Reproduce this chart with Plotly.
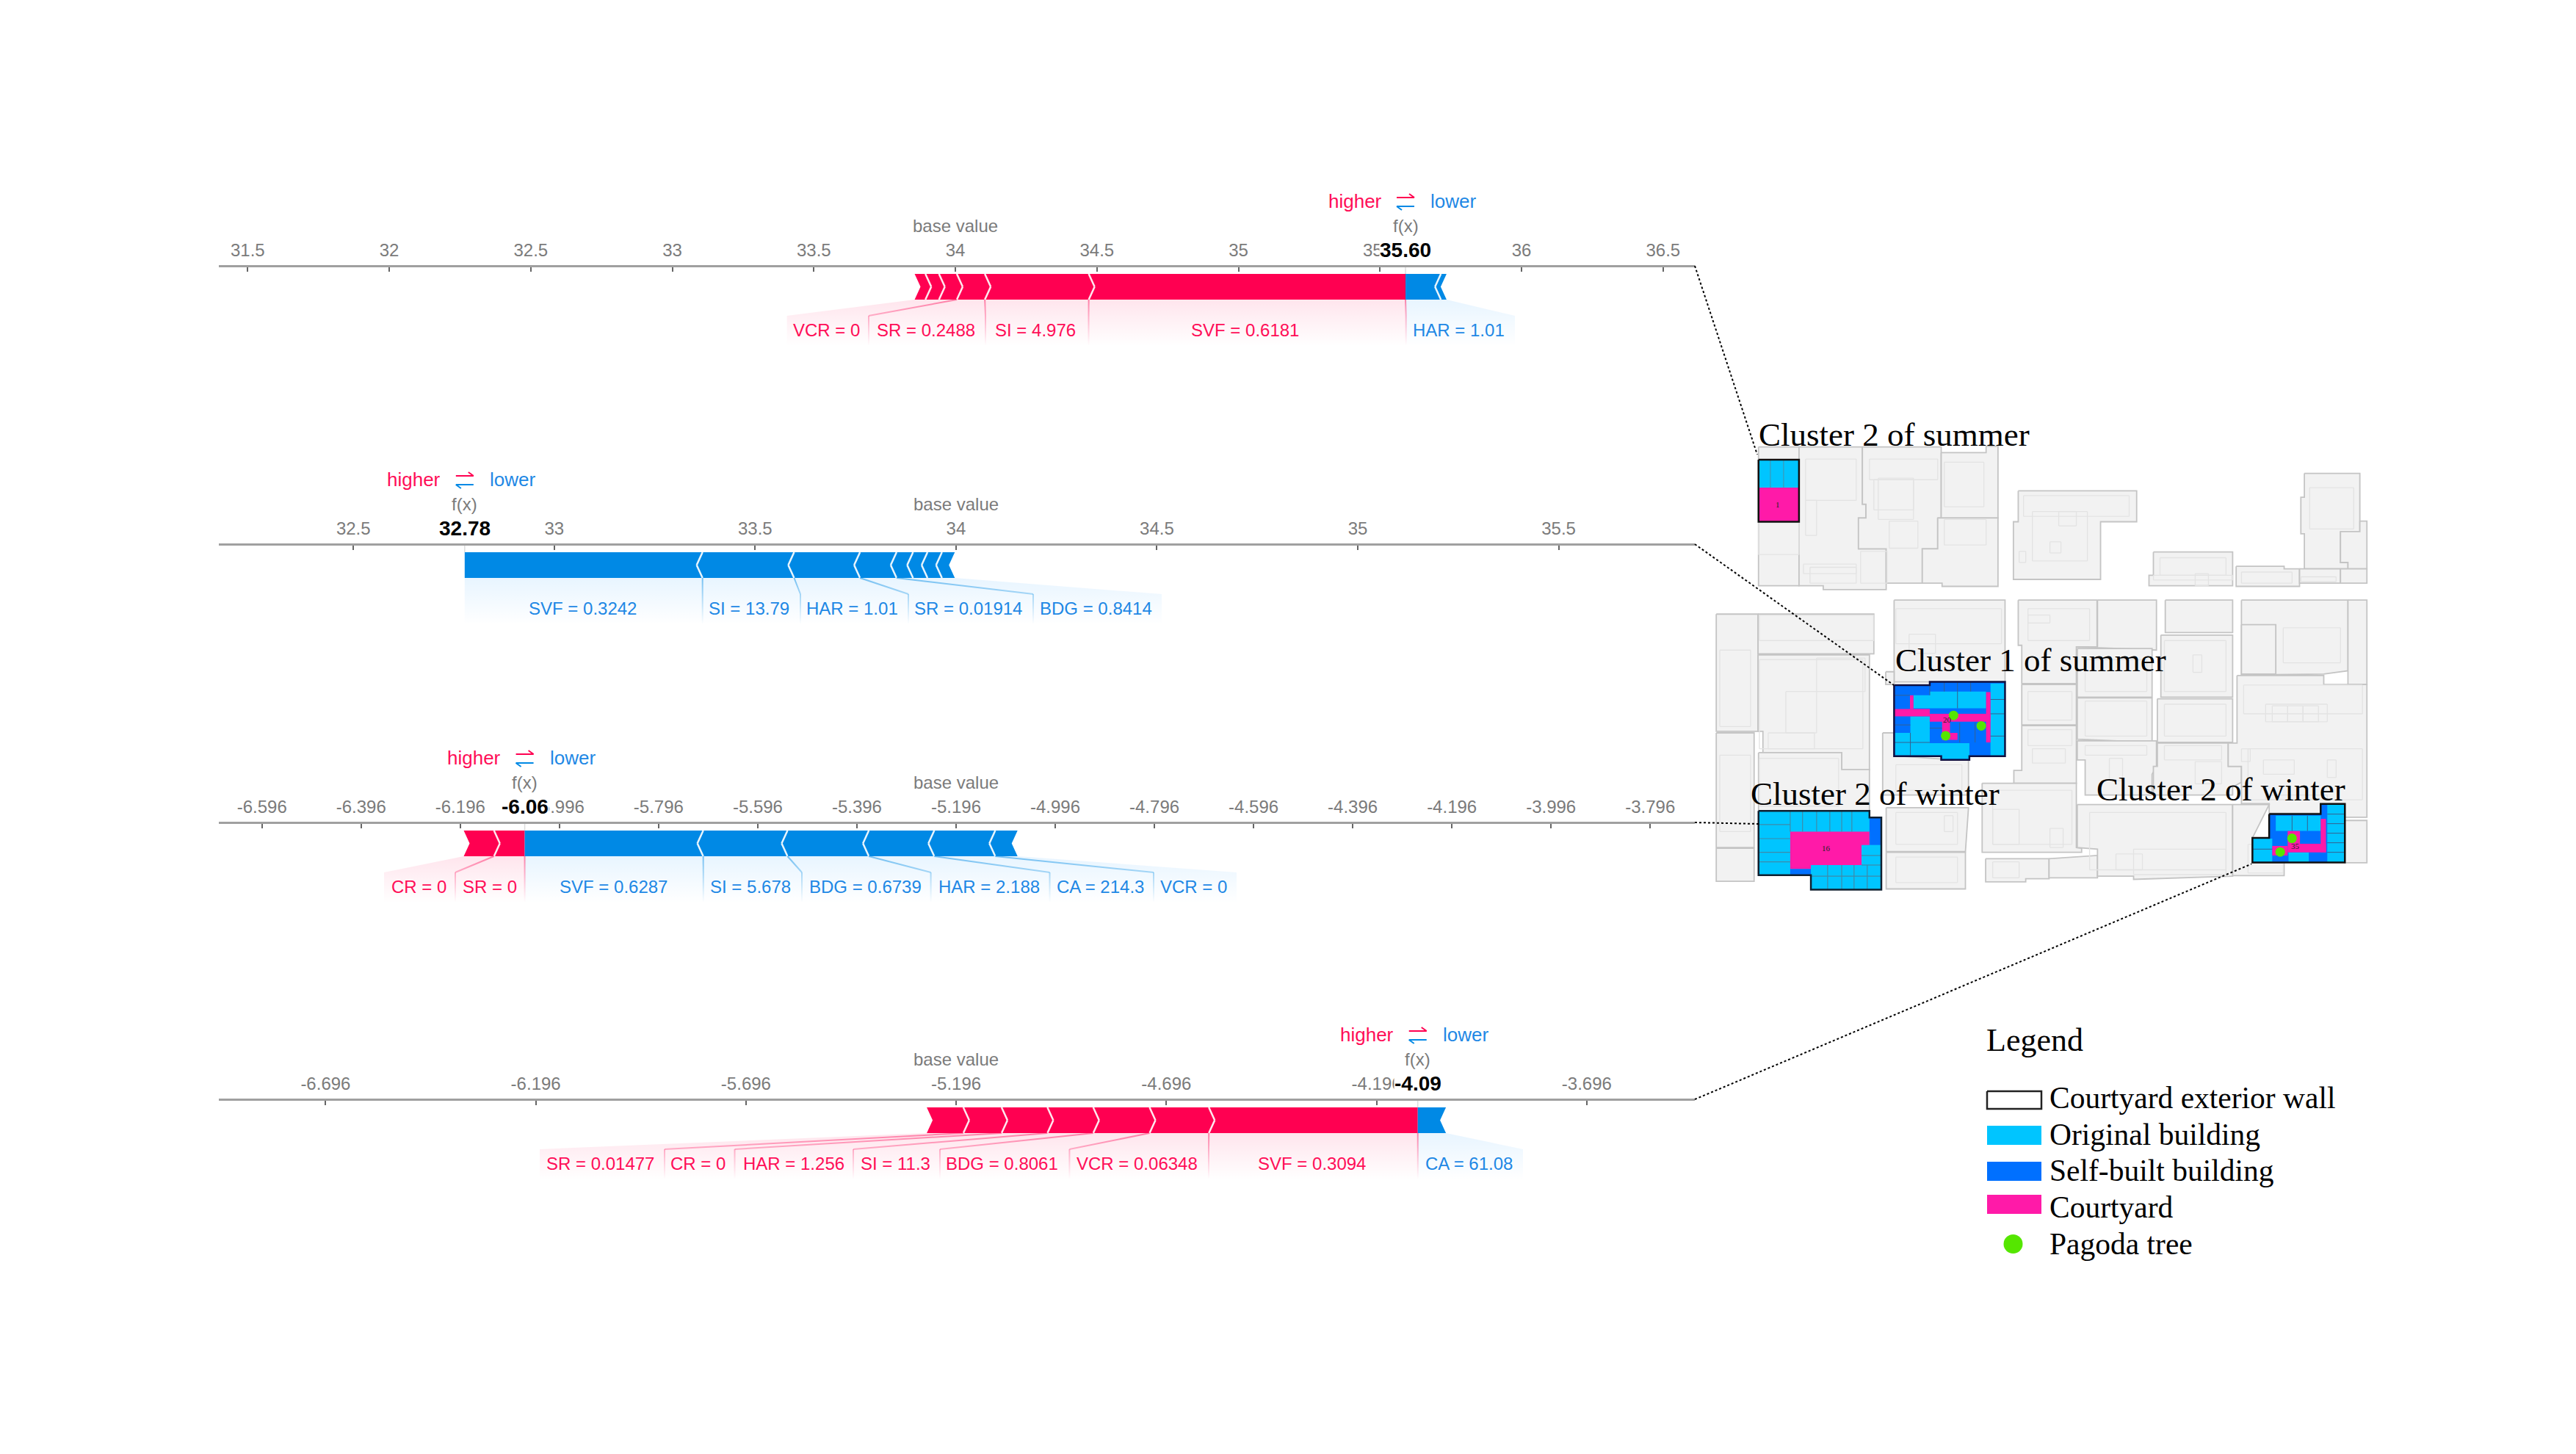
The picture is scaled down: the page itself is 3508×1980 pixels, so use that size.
import plotly.graph_objects as go

# ---------- data ----------
P1_TICK_VALUES = [31.5, 32, 32.5, 33, 33.5, 34, 34.5, 35, 35.5, 36, 36.5]
P1_TICK_LABELS = ["31.5", "32", "32.5", "33", "33.5", "34", "34.5", "35", "35.5", "36", "36.5"]
P1_BASE = 34
P1_FX = 35.59
P1_FX_LABEL = "35.60"
P1_RED_EDGES = [33.856, 33.894, 33.942, 34.005, 34.104, 34.471, 35.59]
P1_BLUE_EDGES = [35.59, 35.715, 35.735]
P1_RED_LABELS = ["VCR = 0", "SR = 0.2488", "SI = 4.976", "SVF = 0.6181"]
P1_BLUE_LABELS = ["HAR = 1.01"]

P2_TICK_VALUES = [32.5, 33, 33.5, 34, 34.5, 35, 35.5]
P2_TICK_LABELS = ["32.5", "33", "33.5", "34", "34.5", "35", "35.5"]
P2_BASE = 34
P2_FX = 32.777
P2_FX_LABEL = "32.78"
P2_RED_EDGES = []
P2_BLUE_EDGES = [32.777, 33.369, 33.597, 33.761, 33.852, 33.893, 33.929, 33.965, 33.997]
P2_RED_LABELS = []
P2_BLUE_LABELS = ["SVF = 0.3242", "SI = 13.79", "HAR = 1.01", "SR = 0.01914", "BDG = 0.8414"]

P3_TICK_VALUES = [-6.596, -6.396, -6.196, -5.996, -5.796, -5.596, -5.396, -5.196, -4.996,
                  -4.796, -4.596, -4.396, -4.196, -3.996, -3.796]
P3_TICK_LABELS = ["-6.596", "-6.396", "-6.196", "-5.996", "-5.796", "-5.596", "-5.396", "-5.196",
                  "-4.996", "-4.796", "-4.596", "-4.396", "-4.196", "-3.996", "-3.796"]
P3_BASE = -5.196
P3_FX = -6.066
P3_FX_LABEL = "-6.06"
P3_RED_EDGES = [-6.189, -6.128, -6.066]
P3_BLUE_EDGES = [-6.066, -5.706, -5.536, -5.372, -5.240, -5.117, -5.072]
P3_RED_LABELS = ["CR = 0", "SR = 0"]
P3_BLUE_LABELS = ["SVF = 0.6287", "SI = 5.678", "BDG = 0.6739", "HAR = 2.188", "CA = 214.3", "VCR = 0"]

P4_TICK_VALUES = [-6.696, -6.196, -5.696, -5.196, -4.696, -4.196, -3.696]
P4_TICK_LABELS = ["-6.696", "-6.196", "-5.696", "-5.196", "-4.696", "-4.196", "-3.696"]
P4_BASE = -5.196
P4_FX = -4.098
P4_FX_LABEL = "-4.09"
P4_RED_EDGES = [-5.266, -5.179, -5.088, -4.979, -4.870, -4.736, -4.595, -4.098]
P4_BLUE_EDGES = [-4.098, -4.031]
P4_RED_LABELS = ["SR = 0.01477", "CR = 0", "HAR = 1.256", "SI = 11.3", "BDG = 0.8061", "VCR = 0.06348", "SVF = 0.3094"]
P4_BLUE_LABELS = ["CA = 61.08"]

LEGEND_TITLE = "Legend"
LEGEND_ITEMS = ["Courtyard exterior wall", "Original building", "Self-built building", "Courtyard", "Pagoda tree"]

# floor-plan footprints (plan units)
PLAN_BLOCKS = [
    [(108,112),(200,112),(200,548),(108,548)],
    [(200,112),(344,112),(344,292),(352,292),(352,335),(335,335),(335,432),(398,432),(398,560),(255,560),(255,548),(200,548)],
    [(344,112),(523,112),(523,335),(515,335),(515,432),(480,432),(480,540),(398,540),(398,432),(335,432),(335,335),(352,335),(352,292),(344,292)],
    [(523,130),(625,130),(625,110),(652,110),(652,335),(523,335)],
    [(515,335),(652,335),(652,550),(525,550),(525,540),(480,540),(480,432),(515,432)],
    [(698,250),(967,250),(967,347),(885,347),(885,528),(687,528),(687,347),(698,347)],
    [(1005,442),(1185,442),(1185,548),(995,548),(995,515),(1005,515)],
    [(1193,487),(1302,487),(1302,495),(1337,495),(1337,550),(1193,550)],
    [(1348,195),(1474,195),(1474,378),(1430,378),(1430,475),(1447,475),(1447,495),(1348,495),(1348,385),(1340,385),(1340,270),(1348,270)],
    [(1430,378),(1474,378),(1474,345),(1490,345),(1490,495),(1447,495),(1447,475),(1430,475)],
    [(1337,495),(1430,495),(1430,540),(1337,540)],
    [(1430,495),(1490,495),(1490,540),(1430,540)],
    [(12,637),(107,637),(107,1005),(12,1005)],
    [(107,637),(370,637),(370,762),(107,762)],
    [(107,765),(360,765),(360,1125),(297,1125),(297,1072),(118,1072),(118,1005),(107,1005)],
    [(12,1010),(98,1010),(98,1370),(12,1370)],
    [(12,1372),(98,1372),(98,1476),(12,1476)],
    [(108,1072),(297,1072),(297,1125),(360,1125),(360,1255),(108,1255)],
    [(416,593),(668,593),(668,850),(416,850)],
    [(397,818),(416,818),(416,858),(397,858)],
    [(390,1010),(416,1010),(416,1082),(525,1092),(585,1092),(585,1205),(390,1205)],
    [(698,593),(877,593),(877,740),(830,740),(830,855),(706,855),(706,735),(698,735)],
    [(878,593),(1012,593),(1012,750),(830,740),(878,740)],
    [(1032,593),(1185,593),(1185,695),(1032,695)],
    [(1022,703),(1185,703),(1185,898),(1022,898)],
    [(832,745),(1002,745),(1002,898),(832,898)],
    [(832,900),(1002,900),(1002,1040),(832,1030)],
    [(1014,903),(1185,903),(1185,1040),(1014,1040)],
    [(706,858),(830,858),(830,985),(706,985)],
    [(706,987),(830,987),(830,1168),(688,1168),(688,1128),(706,1128)],
    [(832,1035),(1012,1035),(1012,1115),(1002,1140),(1002,1205),(850,1205),(850,1095),(832,1095)],
    [(1014,1042),(1175,1042),(1175,1115),(1205,1115),(1205,1165),(1185,1180),(1185,1205),(1005,1205),(1005,1115),(1014,1115)],
    [(1205,593),(1447,593),(1447,815),(1392,825),(1205,828)],
    [(1447,593),(1490,593),(1490,858),(1447,858)],
    [(1195,830),(1392,830),(1392,858),(1490,858),(1490,1275),(1440,1275),(1440,1232),(1385,1232),(1385,1262),(1268,1262),(1268,1232),(1205,1232),(1205,1115),(1175,1115),(1175,1042),(1195,1042)],
    [(1205,670),(1283,670),(1283,825),(1205,825)],
    [(616,1168),(830,1168),(830,1370),(842,1372),(842,1385),(616,1385)],
    [(398,1245),(585,1245),(578,1383),(398,1383)],
    [(398,1385),(578,1385),(578,1500),(398,1500)],
    [(624,1405),(768,1405),(768,1468),(715,1468),(715,1478),(624,1478)],
    [(768,1405),(878,1395),(878,1465),(768,1465)],
    [(832,1235),(1185,1235),(1185,1460),(960,1470),(960,1460),(878,1460),(878,1375),(832,1370)],
    [(1185,1235),(1268,1235),(1230,1340),(1230,1418),(1302,1418),(1302,1458),(1185,1458)],
    [(1440,1285),(1490,1285),(1490,1418),(1440,1418)],
]
PLAN_DETAIL_RECTS = [
    (108,350,200,450),(210,480,330,510),(380,210,460,340),(340,440,400,540),(530,160,620,300),(530,340,625,420),
    (730,315,855,470),(770,410,795,445),(700,440,715,475),(1005,515,1185,530),(1360,240,1460,370),
    (110,780,345,1060),(170,880,240,1010),(110,640,370,720),(420,620,660,730),(450,700,510,760),
    (720,620,860,720),(850,780,990,880),(850,910,990,1020),(1030,720,1170,880),(1095,765,1115,820),
    (1030,920,1170,1020),(720,880,820,970),(730,1060,805,1105),(1100,1100,1160,1170),(905,1090,935,1160),
    (1210,860,1480,950),(1260,920,1400,975),(1220,1060,1480,1220),(1255,1095,1325,1140),(1300,680,1430,790),
    (110,1090,290,1240),(20,750,90,990),(20,1080,90,1320),(640,1190,820,1360),(770,1310,800,1370),
    (420,1260,560,1360),(530,1270,550,1320),(420,1400,560,1480),(640,1415,700,1465),(860,1260,1170,1440),
    (960,1375,1170,1455),(920,1390,980,1440),(420,1110,570,1190),(1220,1360,1300,1450),
    (215,150,330,280),(215,280,240,390),(360,150,515,215),(370,215,460,310),(405,345,470,430),(225,490,330,540),
    (710,265,950,330),(790,315,830,360),(1020,460,1170,515),(1205,505,1320,540),(1100,510,1130,548),
    (240,775,350,880),(130,1010,235,1060),(1260,1205,1400,1220),(1275,925,1310,975),(1310,925,1345,975),
    (1345,925,1380,975),(1205,1060,1225,1100),(1400,1095,1420,1150),(720,1000,820,1050),(720,640,770,665),
    (850,1050,990,1080),(1030,1050,1160,1095),(640,1250,700,1360),(1340,520,1420,535),
]

C2_SUMMER_OUTLINE = [(108,152),(200,152),(200,347),(108,347)]
C2_SUMMER_ORIGINAL = [[(108,152),(200,152),(200,240),(108,240)]]
C2_SUMMER_COURT = [[(108,240),(200,240),(200,347),(108,347)]]
C2_SUMMER_GRID = [(135,152,135,240),(165,152,165,240)]

C1_OUTLINE = [(416,860),(497,860),(497,850),(668,850),(668,1083),(587,1083),(587,1095),(523,1095),(523,1083),(416,1083)]
C1_ORIGINAL = [
    [(460,892),(497,892),(497,880),(625,880),(625,933),(460,933)],
    [(635,855),(668,855),(668,1083),(635,1083)],
    [(453,958),(497,958),(497,1042),(587,1042),(587,1092),(525,1092),(525,1081),(418,1081),(418,1010),(453,1010)],
]
C1_COURT = [
    [(452,892),(460,892),(460,935),(452,935)],
    [(416,935),(497,935),(497,958),(416,958)],
    [(497,950),(635,950),(635,975),(497,975)],
    [(625,882),(635,882),(635,1040),(625,1040)],
    [(525,970),(543,970),(543,1032),(525,1032)],
    [(543,1010),(560,1010),(560,1032),(543,1032)],
]
C1_GRID = [(497,850,497,892),(530,850,530,880),(560,850,560,880),(590,850,590,880),(416,892,452,892),
           (416,985,453,985),(416,1040,497,1040),(453,1010,453,1081),(560,880,560,933),(635,905,668,905),
           (635,950,668,950),(635,1020,668,1020),(565,978,565,1040),(600,978,600,1040),(497,995,525,995)]
C1_TREES_X = [551, 614, 533]
C1_TREES_Y = [955, 988, 1019]

C2L_OUTLINE = [(108,1255),(360,1255),(360,1276),(387,1276),(387,1502),(227,1502),(227,1457),(108,1457)]
C2L_SELF = [[(360,1276),(387,1276),(387,1362),(360,1362)], [(180,1437),(227,1437),(227,1457),(180,1457)]]
C2L_COURT = [[(180,1320),(360,1320),(360,1362),(342,1362),(342,1425),(227,1425),(227,1437),(180,1437)]]
C2L_GRID = [(180,1255,180,1320),(208,1255,208,1320),(240,1255,240,1320),(270,1255,270,1320),(297,1255,297,1320),
            (320,1255,320,1320),(108,1298,180,1298),(108,1342,180,1342),(108,1385,180,1385),(108,1415,180,1415),
            (227,1460,387,1460),(265,1425,265,1502),(297,1425,297,1502),(325,1425,325,1502),(355,1425,355,1502),
            (342,1395,387,1395),(342,1425,387,1425)]

C2R_OUTLINE = [(1268,1265),(1385,1265),(1385,1233),(1440,1233),(1440,1417),(1230,1417),(1230,1340),(1268,1340)]
C2R_ORIGINAL = [
    [(1400,1233),(1440,1233),(1440,1417),(1400,1417)],
    [(1283,1270),(1385,1270),(1385,1318),(1283,1318)],
    [(1230,1342),(1275,1342),(1275,1415),(1230,1415)],
    [(1312,1385),(1358,1385),(1358,1415),(1312,1415)],
]
C2R_COURT = [
    [(1385,1280),(1397,1280),(1397,1385),(1385,1385)],
    [(1310,1358),(1397,1358),(1397,1385),(1310,1385)],
    [(1310,1318),(1338,1318),(1338,1358),(1310,1358)],
    [(1275,1365),(1310,1365),(1310,1395),(1275,1395)],
]
C2R_GRID = [(1320,1270,1320,1318),(1355,1270,1355,1318),(1400,1265,1440,1265),(1400,1295,1440,1295),
            (1400,1325,1440,1325),(1400,1355,1440,1355),(1400,1385,1440,1385),(1230,1375,1275,1375)]
C2R_TREES_X = [1320, 1293]
C2R_TREES_Y = [1341, 1384]

PLAN_TITLES = ["Cluster 2 of summer", "Cluster 1 of summer", "Cluster 2 of winter", "Cluster 2 of winter"]
PLAN_NUMBERS = ["1", "16", "20", "35"]

# ---------- layout constants (page pixels) ----------
W, H = 3508, 1980
AX_L, AX_R = 298, 2308
RED, BLUE = "rgb(255,0,81)", "rgb(0,137,229)"
RED_TXT, BLUE_TXT = "rgb(255,13,87)", "rgb(30,136,229)"
TICK_GRAY = "#7b7b7b"
C_ORIG, C_SELF, C_COURT, C_TREE = "#00c5ff", "#0070ff", "#ff1aa8", "#55e600"
SANS, SERIF = "Liberation Sans", "Liberation Serif"
TIP = 8

PANELS = [
    dict(axis_y=362, rng=(31.398, 36.612), ticks=P1_TICK_VALUES, labels=P1_TICK_LABELS, base=P1_BASE, fx=P1_FX, fxl=P1_FX_LABEL,
         red=P1_RED_EDGES, blue=P1_BLUE_EDGES, rl=P1_RED_LABELS, bl=P1_BLUE_LABELS,
         rl_px=[1125, 1260.5, 1410, 1695], bl_px=[1986],
         rd=[(3,1183),(4,1342),(5,1482.5),(6,1914.7)], bd=[], left=1071.6, right=2063),
    dict(axis_y=741, rng=(32.165, 35.839), ticks=P2_TICK_VALUES, labels=P2_TICK_LABELS, base=P2_BASE, fx=P2_FX, fxl=P2_FX_LABEL,
         red=P2_RED_EDGES, blue=P2_BLUE_EDGES, rl=P2_RED_LABELS, bl=P2_BLUE_LABELS,
         rl_px=[], bl_px=[793, 1020, 1160.5, 1318, 1492],
         rd=[], bd=[(1,956.7),(2,1090),(3,1237),(4,1407)], left=None, right=1582),
    dict(axis_y=1120, rng=(-6.683, -3.706), ticks=P3_TICK_VALUES, labels=P3_TICK_LABELS, base=P3_BASE, fx=P3_FX, fxl=P3_FX_LABEL,
         red=P3_RED_EDGES, blue=P3_BLUE_EDGES, rl=P3_RED_LABELS, bl=P3_BLUE_LABELS,
         rl_px=[570, 667], bl_px=[835, 1022.4, 1178, 1347, 1498.6, 1625],
         rd=[(1,620),(2,714.6)], bd=[(1,957.8),(2,1092),(3,1267.6),(4,1429.5),(5,1571)], left=523, right=1684),
    dict(axis_y=1497, rng=(-6.950, -3.439), ticks=P4_TICK_VALUES, labels=P4_TICK_LABELS, base=P4_BASE, fx=P4_FX, fxl=P4_FX_LABEL,
         red=P4_RED_EDGES, blue=P4_BLUE_EDGES, rl=P4_RED_LABELS, bl=P4_BLUE_LABELS,
         rl_px=[817, 950, 1081, 1219.5, 1364, 1548.7, 1786], bl_px=[2000],
         rd=[(1,905),(2,1000.5),(3,1162),(4,1280),(5,1456.4),(6,1646),(7,1930.8)], bd=[], left=735, right=2074),
]
CONNECTORS = [(2308,362,2393,619),(2308,741,2579,933),(2308,1120,2395,1122),(2308,1497,3066,1176.5)]

fig = go.Figure()
ann = []
PX = dict(xaxis="x6", yaxis="y")
PLAN = dict(xaxis="x5", yaxis="y2")


def poly(points, fill, line=None, width=0, **ax):
    xs = [p[0] for p in points] + [points[0][0]]
    ys = [p[1] for p in points] + [points[0][1]]
    fig.add_trace(go.Scatter(x=xs, y=ys, mode="lines", fill="toself", fillcolor=fill,
                             line=dict(color=line or "rgba(0,0,0,0)", width=width),
                             hoverinfo="skip", showlegend=False, **ax))


def segs(segments, color, width, **ax):
    xs, ys = [], []
    for x0, y0, x1, y1 in segments:
        xs += [x0, x1, None]
        ys += [y0, y1, None]
    fig.add_trace(go.Scatter(x=xs, y=ys, mode="lines", line=dict(color=color, width=width),
                             hoverinfo="skip", showlegend=False, **ax))


def text(x, y, s, size, color, family=SANS, anchor="center", bold=False, bg=None, xref="x6", yref="y"):
    ann.append(dict(x=x, y=y, xref=xref, yref=yref, text=f"<b>{s}</b>" if bold else s, showarrow=False,
                    xanchor=anchor, yanchor="middle", font=dict(size=size, color=color, family=family),
                    bgcolor=bg, borderpad=0))


for i, p in enumerate(PANELS):
    name = "" if i == 0 else str(i + 1)
    AX = dict(xaxis="x" + name, yaxis="y")
    r0, r1 = p["rng"]
    to_px = lambda v, r0=r0, r1=r1: AX_L + (v - r0) / (r1 - r0) * (AX_R - AX_L)
    dv = TIP / (AX_R - AX_L) * (r1 - r0)
    y0 = p["axis_y"]
    top, bot, mid = y0 + 11, y0 + 46, y0 + 28.5
    slant, fade_bot, lab_y = y0 + 68, y0 + 108, y0 + 87
    fx_px = to_px(p["fx"])

    # soft bands under the bar
    if p["red"] and p["left"]:
        poly([(p["left"], slant), (to_px(p["red"][0]), bot), (fx_px, bot), (fx_px, fade_bot), (p["left"], fade_bot)],
             "rgba(255,0,81,0.10)", **PX)
    if p["blue"]:
        poly([(fx_px, bot), (to_px(p["blue"][-1]), bot), (p["right"], slant), (p["right"], fade_bot), (fx_px, fade_bot)],
             "rgba(0,139,251,0.09)", **PX)
    # dividers
    divs = [(to_px(p["red"][k]), bot, px_row, slant) for k, px_row in p["rd"]]
    if divs:
        segs(divs + [(d[2], slant, d[2], fade_bot) for d in divs], "rgba(255,0,81,0.45)", 2, **PX)
    divs = [(to_px(p["blue"][k]), bot, px_row, slant) for k, px_row in p["bd"]]
    if divs:
        segs(divs + [(d[2], slant, d[2], fade_bot) for d in divs], "rgba(0,139,229,0.5)", 2, **PX)
    # white fade over bands and dividers
    fl = p["left"] if p["left"] else fx_px
    fig.add_trace(go.Scatter(x=[fl - 2, p["right"] + 2, p["right"] + 2, fl - 2, fl - 2], y=[bot, bot, fade_bot + 1, fade_bot + 1, bot],
                             mode="lines", fill="toself", line=dict(width=0, color="rgba(0,0,0,0)"),
                             fillgradient=dict(type="vertical", start=bot, stop=fade_bot + 1,
                                               colorscale=[[0, "rgba(255,255,255,0)"], [1, "rgba(255,255,255,1)"]]),
                             hoverinfo="skip", showlegend=False, **PX))

    # red segments pointing right, blue segments pointing left
    seps = []
    e = p["red"]
    for k in range(len(e) - 1):
        last = k == len(e) - 2
        a, b = e[k], e[k + 1]
        poly([(a, top), (b, top)] + ([] if last else [(b + dv, mid)]) + [(b, bot), (a, bot), (a + dv, mid)], RED, **AX)
        if not last:
            seps.append((b, top, b + dv, mid))
            seps.append((b + dv, mid, b, bot))
    e = p["blue"]
    for k in range(len(e) - 1):
        first = k == 0
        a, b = e[k], e[k + 1]
        poly([(a, top), (b, top), (b - dv, mid), (b, bot), (a, bot)] + ([] if first else [(a - dv, mid)]), BLUE, **AX)
        if not first:
            seps.append((a, top, a - dv, mid))
            seps.append((a - dv, mid, a, bot))
    segs(seps, "rgba(255,255,255,0.9)", 2.5, **AX)
    # faint marker between axis and bar at f(x)
    segs([(p["fx"], y0, p["fx"], top)], "#dddddd", 1.5, **AX)

    # axis
    layout_axis = dict(domain=[AX_L / W, AX_R / W], range=list(p["rng"]), anchor="free", position=1 - y0 / H,
                       side="top", ticks="inside", ticklen=6, tickwidth=1.5, tickcolor="#666666",
                       tickvals=p["ticks"], ticktext=p["labels"], tickangle=0, ticklabelstandoff=3,
                       tickfont=dict(size=24, color=TICK_GRAY, family=SANS),
                       showline=True, linecolor="#a0a0a0", linewidth=2.5, showgrid=False, zeroline=False, fixedrange=True)
    fig.update_layout(**{"xaxis" + name: layout_axis})

    # texts
    ref = "x" + name
    text(p["base"], y0 - 55, "base value", 24, TICK_GRAY, xref=ref)
    text(p["fx"], y0 - 55, "f(x)", 24, TICK_GRAY, xref=ref)
    text(p["fx"], y0 - 22, p["fxl"], 28, "#000000", bold=True, bg="#ffffff", xref=ref)
    text(fx_px - 69, y0 - 88, "higher", 26, RED_TXT)
    text(fx_px + 65, y0 - 88, "lower", 26, BLUE_TXT)
    segs([(fx_px - 12, y0 - 93, fx_px + 12, y0 - 93), (fx_px + 12, y0 - 93, fx_px + 5, y0 - 98)], RED, 2, **PX)
    segs([(fx_px + 12, y0 - 81, fx_px - 12, y0 - 81), (fx_px - 12, y0 - 81, fx_px - 5, y0 - 76)], BLUE, 2, **PX)
    for s, x in zip(p["rl"], p["rl_px"]):
        text(x, lab_y, s, 24, RED_TXT)
    for s, x in zip(p["bl"], p["bl_px"]):
        text(x, lab_y, s, 24, BLUE_TXT)


def rects(rs):
    out = []
    for x0, y0, x1, y1 in rs:
        out += [(x0, y0, x1, y0), (x1, y0, x1, y1), (x1, y1, x0, y1), (x0, y1, x0, y0)]
    return out


# floor plan
for b in PLAN_BLOCKS:
    poly(b, "#f2f2f2", "#c4c4c4", 1.8, **PLAN)
segs(rects(PLAN_DETAIL_RECTS), "#e3e3e3", 1.3, **PLAN)

# highlighted courtyards
poly(C2_SUMMER_OUTLINE, C_COURT, **PLAN)
for q in C2_SUMMER_ORIGINAL:
    poly(q, C_ORIG, **PLAN)
for q in C2_SUMMER_COURT:
    poly(q, C_COURT, **PLAN)
segs(C2_SUMMER_GRID, "#4a90a8", 1, **PLAN)
poly(C2_SUMMER_OUTLINE, "rgba(0,0,0,0)", "#101010", 2.5, **PLAN)

poly(C1_OUTLINE, C_SELF, **PLAN)
for q in C1_ORIGINAL:
    poly(q, C_ORIG, **PLAN)
for q in C1_COURT:
    poly(q, C_COURT, **PLAN)
segs(C1_GRID, "#35618f", 1, **PLAN)
poly(C1_OUTLINE, "rgba(0,0,0,0)", "#101040", 2.5, **PLAN)

poly(C2L_OUTLINE, C_ORIG, **PLAN)
for q in C2L_SELF:
    poly(q, C_SELF, **PLAN)
for q in C2L_COURT:
    poly(q, C_COURT, **PLAN)
segs(C2L_GRID, "#3f8aa8", 1.2, **PLAN)
poly(C2L_OUTLINE, "rgba(0,0,0,0)", "#102030", 2.5, **PLAN)

poly(C2R_OUTLINE, C_SELF, **PLAN)
for q in C2R_ORIGINAL:
    poly(q, C_ORIG, **PLAN)
for q in C2R_COURT:
    poly(q, C_COURT, **PLAN)
segs(C2R_GRID, "#35618f", 1, **PLAN)
poly(C2R_OUTLINE, "rgba(0,0,0,0)", "#101010", 2.5, **PLAN)

fig.add_trace(go.Scatter(x=C1_TREES_X + C2R_TREES_X, y=C1_TREES_Y + C2R_TREES_Y, mode="markers",
                         marker=dict(size=13, color=C_TREE), hoverinfo="skip", showlegend=False, **PLAN))

# connectors
for x0, y0, x1, y1 in CONNECTORS:
    fig.add_trace(go.Scatter(x=[x0, x1], y=[y0, y1], mode="lines", line=dict(color="#000000", width=2, dash="3px,3px"),
                             hoverinfo="skip", showlegend=False, **PX))

# plan labels
for s, x, y in zip(PLAN_TITLES, [2394, 2580, 2383, 2854], [592, 899, 1081, 1075]):
    text(x, y, s, 45, "#000000", family=SERIF, anchor="left")
for s, x, y in zip(PLAN_NUMBERS, [152, 262, 537, 1328], [293, 1373, 968, 1365]):
    text(x, y, s, 11, "#222222", family=SERIF, xref="x5", yref="y2")

# legend
text(2704, 1416, LEGEND_TITLE, 44, "#000000", family=SERIF, anchor="left")
for s, y in zip(LEGEND_ITEMS, [1495, 1545, 1594, 1644, 1694]):
    text(2790, y, s, 41.5, "#000000", family=SERIF, anchor="left")
poly([(2706, 1486), (2780, 1486), (2780, 1510), (2706, 1510)], "#ffffff", "#222222", 2.5, **PX)
poly([(2706, 1533), (2780, 1533), (2780, 1559), (2706, 1559)], C_ORIG, **PX)
poly([(2706, 1582), (2780, 1582), (2780, 1608), (2706, 1608)], C_SELF, **PX)
poly([(2706, 1627), (2780, 1627), (2780, 1653), (2706, 1653)], C_COURT, **PX)
fig.add_trace(go.Scatter(x=[2741.5], y=[1694], mode="markers", marker=dict(size=26, color=C_TREE),
                         hoverinfo="skip", showlegend=False, **PX))

hidden = dict(visible=False, fixedrange=True)
fig.update_layout(
    width=W, height=H, autosize=False, margin=dict(l=0, r=0, t=0, b=0), showlegend=False,
    paper_bgcolor="#ffffff", plot_bgcolor="rgba(0,0,0,0)", annotations=ann,
    yaxis=dict(range=[H, 0], domain=[0, 1], **hidden),
    yaxis2=dict(range=[1568, 0], domain=[1 - 1240 / H, 1 - 560 / H], anchor="x5", **hidden),
    xaxis5=dict(range=[0, 1568], domain=[2330 / W, 3270 / W], anchor="y2", **hidden),
    xaxis6=dict(range=[0, W], domain=[0, 1], anchor="y", **hidden),
)
fig.write_html("out.html", config=dict(displayModeBar=False),
               post_script="document.body.style.margin='0';")
